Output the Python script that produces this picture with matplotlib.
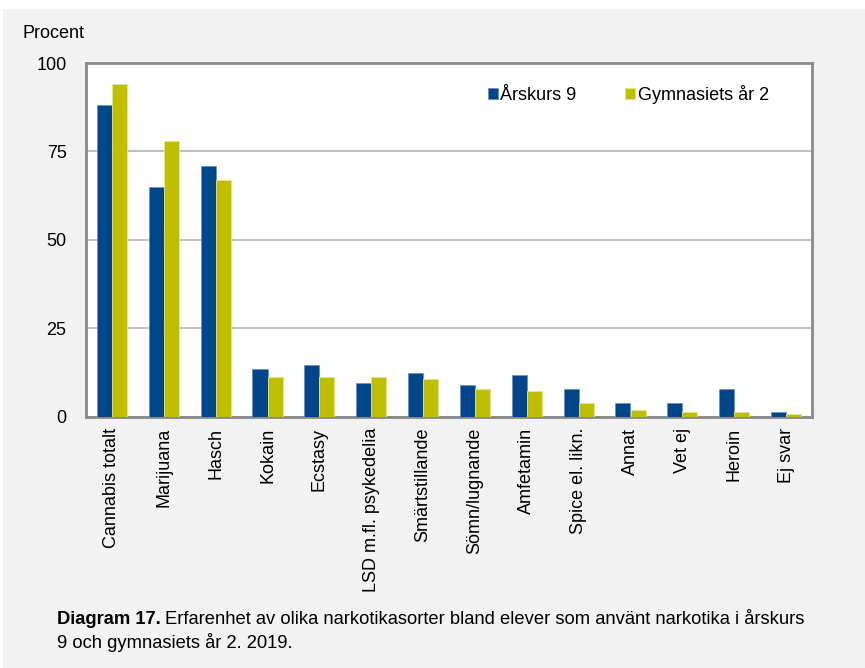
import matplotlib
matplotlib.use("Agg")
import matplotlib.pyplot as plt
import numpy as np
from matplotlib.patches import Rectangle

categories = ["Cannabis totalt", "Marijuana", "Hasch", "Kokain", "Ecstasy",
              "LSD m.fl. psykedelia", "Smärtstillande", "Sömn/lugnande",
              "Amfetamin", "Spice el. likn.", "Annat", "Vet ej", "Heroin", "Ej svar"]
arskurs9 = [88, 65, 71, 13.3, 14.5, 9.4, 12.2, 8.8, 11.7, 7.7, 3.7, 3.7, 7.7, 1.3]
gymnasiet2 = [94, 78, 67, 11.2, 11.2, 11.2, 10.5, 7.7, 7.1, 3.7, 1.9, 1.3, 1.3, 0.8]
series_names = ["Årskurs 9", "Gymnasiets år 2"]
yticks = [0, 25, 50, 75, 100]

plt.rcParams['font.family'] = ['Liberation Sans', 'DejaVu Sans']
FS = 13

W, H = 865, 668
fig = plt.figure(figsize=(W / 100, H / 100), dpi=100)
fig.patch.set_facecolor('#f2f2f2')
# white strips at top and left edge
fig.patches.append(Rectangle((0, 1 - 9 / H), 1, 9 / H, transform=fig.transFigure,
                             facecolor='white', edgecolor='none', zorder=0))
fig.patches.append(Rectangle((0, 0), 3 / W, 1, transform=fig.transFigure,
                             facecolor='white', edgecolor='none', zorder=0))

left, right, top, bottom = 86, 812, 63, 416.5
ax = fig.add_axes([left / W, 1 - bottom / H, (right - left) / W, (bottom - top) / H])
ax.set_facecolor('white')

x = np.arange(len(categories))
bw = 0.29
blue = '#00468b'
yellow = '#bfbf00'
ax.bar(x - bw / 2, arskurs9, bw, color=blue, edgecolor='#6f8fbf', linewidth=0.6,
       label=series_names[0], zorder=3)
ax.bar(x + bw / 2, gymnasiet2, bw, color=yellow, edgecolor='#e5e58a', linewidth=0.6,
       label=series_names[1], zorder=3)

ax.set_xlim(-0.5, len(categories) - 0.5)
ax.set_ylim(0, 100)
ax.set_yticks(yticks)
ax.set_yticklabels([str(v) for v in yticks], fontsize=FS)
ax.yaxis.grid(True, color='#bfbfbf', linewidth=1.5, zorder=0)
ax.set_axisbelow(True)
ax.set_xticks(x)
ax.set_xticklabels(categories, rotation=90, fontsize=FS)
ax.tick_params(axis='x', length=0, pad=8)
ax.tick_params(axis='y', length=0, pad=14)
for s in ax.spines.values():
    s.set_color('#898989')
    s.set_linewidth(2)

leg = ax.legend(loc='upper left', bbox_to_anchor=(0.531, 0.985), ncol=2, frameon=False,
                fontsize=FS, handlelength=0.55, handleheight=0.55, handletextpad=0.15,
                columnspacing=2.7)

fig.text(22 / W, 1 - 33 / H, "Procent", fontsize=FS, va='center', ha='left')

FSC = 13.2
renderer = fig.canvas.get_renderer()
t1 = fig.text(57 / W, 1 - 620 / H, "Diagram 17.", fontsize=FSC, fontweight='bold',
              va='center', ha='left')
bb = t1.get_window_extent(renderer)
fig.text(bb.x1 / W + 4 / W, 1 - 620 / H,
         "Erfarenhet av olika narkotikasorter bland elever som använt narkotika i årskurs",
         fontsize=FSC, va='center', ha='left')
fig.text(57 / W, 1 - 642 / H, "9 och gymnasiets år 2. 2019.", fontsize=FSC,
         va='center', ha='left')

fig.savefig("out.png", dpi=100, facecolor=fig.get_facecolor())
